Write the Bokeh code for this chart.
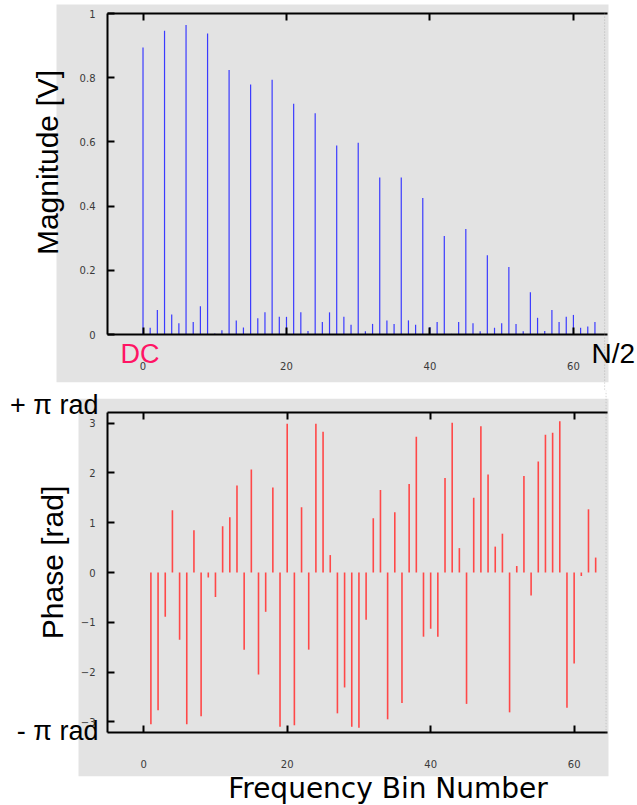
import math
from bokeh.plotting import figure
from bokeh.models import (Range1d, LinearAxis, FixedTicker, BoxAnnotation, Label,
                          CustomJSTickFormatter, ColumnDataSource)
from bokeh.layouts import column
from bokeh.embed import file_html
from bokeh.resources import INLINE

# ---------------- data ----------------
bins = list(range(64))
magnitude = [0.894, 0.021, 0.076, 0.946, 0.062, 0.035, 0.964, 0.039, 0.088, 0.938,
             0.003, 0.013, 0.824, 0.044, 0.022, 0.779, 0.051, 0.069, 0.794, 0.055,
             0.055, 0.719, 0.069, 0.011, 0.689, 0.039, 0.069, 0.589, 0.055, 0.030,
             0.597, 0.010, 0.033, 0.489, 0.044, 0.033, 0.489, 0.044, 0.030, 0.425,
             0.023, 0.039, 0.307, 0.002, 0.039, 0.329, 0.035, 0.010, 0.247, 0.021,
             0.035, 0.210, 0.033, 0.010, 0.132, 0.052, 0.011, 0.076, 0.039, 0.055,
             0.061, 0.021, 0.025, 0.039]
phase = [0.00, -3.05, -2.77, -0.89, 1.25, -1.35, -3.05, 0.85, -2.89, -0.10,
         -0.49, 0.93, 1.11, 1.75, -1.55, 2.07, -2.05, -0.79, 1.71, -3.10,
         2.99, -3.07, 1.31, -1.55, 2.99, 2.83, 0.35, -2.83, -2.31, -3.10,
         -3.12, -0.95, 1.09, 1.66, -2.95, 1.21, -2.62, 1.78, 2.73, -1.29,
         -1.13, -1.29, 1.90, 3.01, 0.49, -2.64, 1.50, 2.94, 1.97, 0.52,
         0.78, -2.81, 0.13, 1.94, -0.46, 2.23, 2.77, 2.81, 3.04, -2.72,
         -1.83, -0.07, 1.27, 0.30]
bin_ticks = [0, 20, 40, 60]
mag_ticks = [0, 0.2, 0.4, 0.6, 0.8, 1]
phase_ticks = [-3, -2, -1, 0, 1, 2, 3]
mag_limits = (0.0, 1.0)
phase_limits = (-3.215, 3.215)
nyquist_bin = 64.35

# ---------------- styling / layout ----------------
W = 637
GRAY = "#e3e3e3"
TICK_FONT = "DejaVu Sans"
LABEL_FONT = "Liberation Sans"


def extend(px_a, px_b, val_a, val_b, total):
    """values at canvas pixel 0 and pixel `total` for a linear map px->value"""
    k = (val_b - val_a) / (px_b - px_a)
    return val_a + (0 - px_a) * k, val_a + (total - px_a) * k


def style_axis(ax, standoff):
    ax.axis_line_color = "black"
    ax.axis_line_width = 2
    ax.major_tick_line_color = "black"
    ax.major_tick_line_width = 2
    ax.major_tick_in = 7
    ax.major_tick_out = 0
    ax.minor_tick_line_color = None
    ax.major_label_standoff = standoff
    ax.major_label_text_font = TICK_FONT
    ax.major_label_text_font_size = "10px"
    ax.major_label_text_color = "#3a3a3a"


def make_panel(height, xlim, ylim, plot_top, plot_bottom, yticks, yformatter=None):
    plot_left, plot_right = 107, 607
    x0, x1 = extend(plot_left, plot_right, xlim[0], xlim[1], W)
    y_at_top, y_at_bottom = extend(plot_top, plot_bottom, ylim[1], ylim[0], height)
    p = figure(width=W, height=height,
               x_range=Range1d(x0, x1), y_range=Range1d(y_at_bottom, y_at_top),
               x_axis_location=None, y_axis_location=None,
               min_border=0, toolbar_location=None, output_backend="svg",
               background_fill_color="white", border_fill_color="white",
               outline_line_color=None)
    p.title.visible = False
    p.grid.visible = False

    bottom_ax = LinearAxis(ticker=FixedTicker(ticks=bin_ticks),
                           fixed_location=ylim[0], bounds=xlim)
    style_axis(bottom_ax, 27)
    p.add_layout(bottom_ax, "below")

    top_ax = LinearAxis(ticker=FixedTicker(ticks=bin_ticks),
                        formatter=CustomJSTickFormatter(code="return ''"),
                        fixed_location=ylim[1], bounds=xlim)
    style_axis(top_ax, 0)
    p.add_layout(top_ax, "above")

    left_ax = LinearAxis(ticker=FixedTicker(ticks=yticks),
                         fixed_location=xlim[0], bounds=ylim)
    if yformatter is not None:
        left_ax.formatter = yformatter
    style_axis(left_ax, 12)
    p.add_layout(left_ax, "left")
    return p


def canvas_box(left, right, top, bottom, **kw):
    return BoxAnnotation(left=left, right=right, top=top, bottom=bottom,
                         left_units="canvas", right_units="canvas",
                         top_units="canvas", bottom_units="canvas", **kw)


def dotted_line(x, top, bottom):
    return BoxAnnotation(left=x - 0.01, right=x + 0.01, top=top, bottom=bottom,
                         left_units="data", right_units="data",
                         top_units="canvas", bottom_units="canvas",
                         fill_alpha=0, line_color="#9a9a9a", line_width=1,
                         line_dash="1 2")


def canvas_label(x, y, text, size, align="left", angle=0.0, baseline="middle",
                 color="black", font=LABEL_FONT):
    return Label(x=x, y=y, x_units="canvas", y_units="canvas", text=text,
                 angle=angle, text_align=align, text_baseline=baseline,
                 text_font=font, text_font_size=size, text_color=color)


# ---------------- magnitude ----------------
p1 = make_panel(390, (-4.95, 64.75), mag_limits, 13, 334, mag_ticks,
                CustomJSTickFormatter(code="return String(tick)"))
p1.add_layout(canvas_box(56, 608, 4, 381.7, fill_color=GRAY, fill_alpha=1,
                         line_color=None, level="underlay"))
src1 = ColumnDataSource(dict(bin=bins, mag=magnitude))
p1.segment(x0="bin", y0=0, x1="bin", y1="mag", source=src1,
           line_color="#3b3bff", line_width=1.2)
p1.add_layout(dotted_line(nyquist_bin, 13, 390))
p1.add_layout(canvas_label(47, 162, "Magnitude [V]", "30px", align="center",
                           angle=math.pi / 2))
p1.add_layout(canvas_label(120, 353.5, "DC", "27px", color="#ff1464"))
p1.add_layout(canvas_label(591, 352.5, "N/2", "28px"))

# ---------------- phase ----------------
p2 = make_panel(415, (-5.05, 64.65), phase_limits, 22, 342, phase_ticks)
p2.add_layout(canvas_box(78, 608, 8.3, 385.7, fill_color=GRAY, fill_alpha=1,
                         line_color=None, level="underlay"))
src2 = ColumnDataSource(dict(bin=bins, ph=phase))
p2.segment(x0="bin", y0=0, x1="bin", y1="ph", source=src2,
           line_color="#ff4848", line_width=1.6)
p2.add_layout(dotted_line(nyquist_bin + 0.1, 0, 342))
p2.add_layout(canvas_label(52, 172, "Phase [rad]", "30px", align="center",
                           angle=math.pi / 2))
p2.add_layout(canvas_label(98, 14.7, "+ π rad", "27px", align="right"))
p2.add_layout(canvas_label(98, 340, "- π rad", "27px", align="right"))
p2.add_layout(canvas_label(387.5, 397.5, "Frequency Bin Number", "28px", align="center",
                           font="DejaVu Sans"))

layout = column(p1, p2, spacing=0)
open("out.html", "w").write(file_html(layout, INLINE))
